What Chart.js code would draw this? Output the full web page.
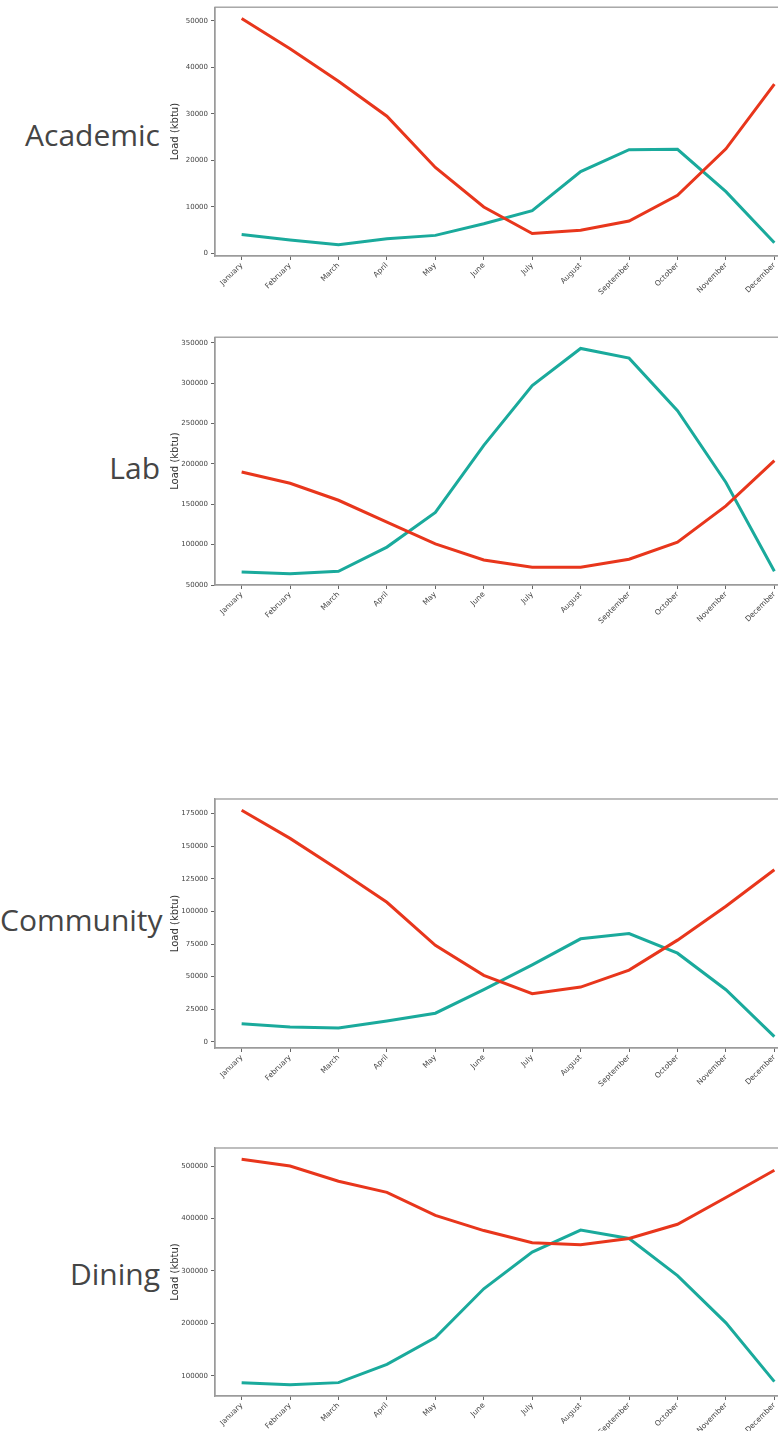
<!DOCTYPE html>
<html>
<head>
<meta charset="utf-8">
<script src="https://cdn.jsdelivr.net/npm/chart.js@4.4.1/dist/chart.umd.min.js"></script>
<style>
  html, body { margin: 0; padding: 0; background: #fff; }
  body { width: 778px; height: 1431px; position: relative; overflow: hidden; }
  .lbl { position: absolute; left: 0; width: 160px; text-align: right; font-family: "Open Sans", "Noto Sans", sans-serif; font-size: 30px; line-height: 30px; color: #454545; white-space: nowrap; }
  .cv { position: absolute; left: 160px; }
</style>
</head>
<body>
<div class="lbl" id="l1">Academic</div>
<div class="lbl" id="l2">Lab</div>
<div class="lbl" id="l3">Community</div>
<div class="lbl" id="l4">Dining</div>
<div class="cv" id="w1"><canvas id="c1"></canvas></div>
<div class="cv" id="w2"><canvas id="c2"></canvas></div>
<div class="cv" id="w3"><canvas id="c3"></canvas></div>
<div class="cv" id="w4"><canvas id="c4"></canvas></div>
<script>
const months = ["January","February","March","April","May","June","July","August","September","October","November","December"];

// Academic
const academicHeating = [50500, 44000, 37000, 29500, 18500, 10000, 4300, 5000, 7000, 12500, 22500, 36400];
const academicCooling = [4100, 2900, 1900, 3200, 3900, 6400, 9200, 17600, 22300, 22400, 13300, 2300];
const academicTicks = [0, 10000, 20000, 30000, 40000, 50000];

// Lab
const labHeating = [190000, 176000, 155000, 128000, 101000, 81000, 72000, 72000, 82000, 103000, 148000, 204000];
const labCooling = [66000, 64000, 67000, 97000, 140000, 223000, 297000, 343000, 331000, 266000, 177000, 67000];
const labTicks = [50000, 100000, 150000, 200000, 250000, 300000, 350000];

// Community
const communityHeating = [177500, 156000, 132000, 107000, 74000, 51000, 37000, 42000, 55000, 78000, 104000, 132000];
const communityCooling = [14000, 11500, 10600, 16000, 22000, 40000, 59000, 79000, 83000, 68000, 40000, 4000];
const communityTicks = [0, 25000, 50000, 75000, 100000, 125000, 150000, 175000];

// Dining
const diningHeating = [513000, 500000, 471000, 450000, 406000, 377000, 354000, 350000, 362000, 389000, 440000, 492000];
const diningCooling = [87000, 83000, 87000, 122000, 173000, 266000, 336000, 378000, 362000, 291000, 201000, 89000];
const diningTicks = [100000, 200000, 300000, 400000, 500000];

const RED = "#e8361c";
const TEAL = "#1aaa9c";

const framePlugin = {
  id: "frame",
  afterDraw(chart) {
    const { ctx, chartArea: a } = chart;
    ctx.save();
    ctx.strokeStyle = "#9b9b9b";
    ctx.lineWidth = 1.3;
    ctx.strokeRect(a.left, a.top, a.right - a.left, a.bottom - a.top);
    ctx.restore();
  }
};

function pts(arr) { return arr.map((v, i) => ({ x: i, y: v })); }

function makeChart(n, top, padTop, height, heating, cooling, ticks) {
  const w = document.getElementById("w" + n);
  w.style.top = top + "px";
  w.style.width = "700px";
  w.style.height = height + "px";
  const all = heating.concat(cooling);
  const lo = Math.min(...all), hi = Math.max(...all);
  const m = (hi - lo) * 0.05;
  new Chart(document.getElementById("c" + n), {
    type: "line",
    data: {
      datasets: [
        { data: pts(heating), borderColor: RED, borderWidth: 3, pointRadius: 0, tension: 0, fill: false },
        { data: pts(cooling), borderColor: TEAL, borderWidth: 3, pointRadius: 0, tension: 0, fill: false }
      ]
    },
    options: {
      responsive: true,
      maintainAspectRatio: false,
      animation: false,
      events: [],
      layout: { padding: { top: padTop, right: 59, left: 0, bottom: 0 } },
      plugins: { legend: { display: false }, tooltip: { enabled: false } },
      scales: {
        x: {
          type: "linear",
          min: -0.55,
          max: months.length - 1 + 0.55,
          afterBuildTicks(s) { s.ticks = months.map((_, i) => ({ value: i })); },
          afterFit(s) { s.height = 40; },
          grid: { drawOnChartArea: false, drawTicks: true, tickLength: 4, color: "#666" },
          border: { display: true, color: "#9b9b9b", width: 1.3 },
          ticks: {
            autoSkip: false, maxRotation: 45, minRotation: 45, padding: 1,
            font: { family: "DejaVu Sans", size: 7.5 }, color: "#444",
            callback: (v) => months[v]
          }
        },
        y: {
          min: lo - m,
          max: hi + m,
          afterBuildTicks(s) { s.ticks = ticks.map(v => ({ value: v })); },
          afterFit(s) { s.width = 55; },
          grid: { drawOnChartArea: false, drawTicks: true, tickLength: 4, color: "#666" },
          border: { display: true, color: "#9b9b9b", width: 1.3 },
          title: { display: true, text: "Load (kbtu)", font: { family: "DejaVu Sans", size: 10 }, color: "#333", padding: { top: 9, bottom: 0 } },
          ticks: { padding: 3, font: { family: "DejaVu Sans", size: 7 }, color: "#444", callback: (v) => String(v) }
        }
      }
    },
    plugins: [framePlugin]
  });
}

makeChart(1, 0, 5, 296, academicHeating, academicCooling, academicTicks);
makeChart(2, 330, 7, 295, labHeating, labCooling, labTicks);
makeChart(3, 790, 9, 298, communityHeating, communityCooling, communityTicks);
makeChart(4, 1140, 8, 296, diningHeating, diningCooling, diningTicks);

function placeLabel(id, baseline) { document.getElementById(id).style.top = (baseline - 27) + "px"; }
placeLabel("l1", 147);
placeLabel("l2", 480);
placeLabel("l3", 932);
placeLabel("l4", 1286);
</script>
</body>
</html>
